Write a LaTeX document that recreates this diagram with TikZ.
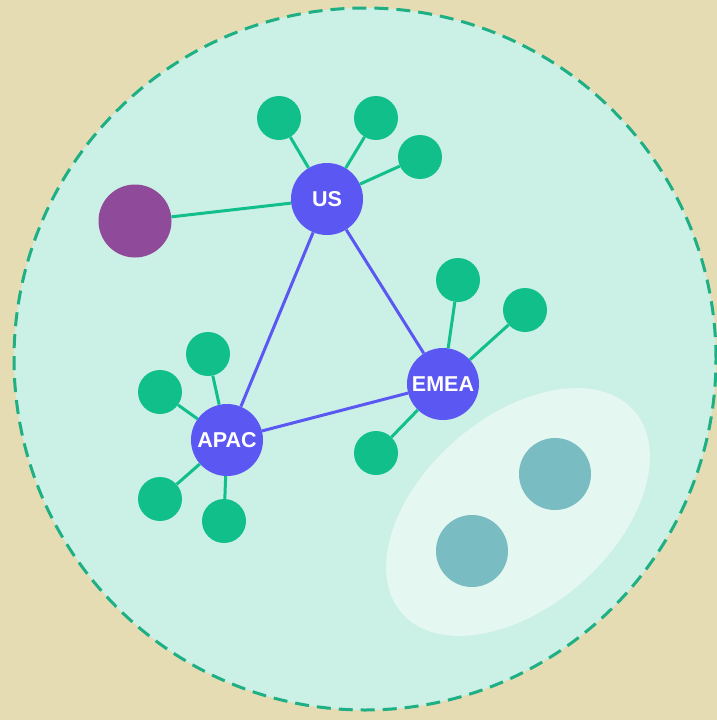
\documentclass[tikz,border=0pt]{standalone}
\usepackage{fontspec}
\setmainfont{Liberation Sans}
\definecolor{bgc}{HTML}{E5DCB4}
\definecolor{zonefill}{HTML}{CBF0E6}
\definecolor{zoneline}{HTML}{1EAF84}
\definecolor{leafc}{HTML}{10BF8A}
\definecolor{hubc}{HTML}{5B57F2}
\definecolor{purplec}{HTML}{904A9A}
\definecolor{tealc}{HTML}{79BCC1}
\definecolor{ovalc}{HTML}{E5F7F1}
\begin{document}
\begin{tikzpicture}[x=1pt,y=-1pt,
  hub/.style={circle,fill=hubc,minimum size=72pt,inner sep=0pt,text=white,font=\bfseries\fontsize{21.5}{21.5}\selectfont},
  leaf/.style={circle,fill=leafc,minimum size=44pt,inner sep=0pt},
  extnode/.style={circle,fill=purplec,minimum size=73pt,inner sep=0pt},
  tealnode/.style={circle,fill=tealc,minimum size=72pt,inner sep=0pt},
  gedge/.style={draw=leafc,line width=3pt},
  bedge/.style={draw=hubc,line width=3pt}]
\useasboundingbox (0,0) rectangle (717,720);
\fill[bgc] (0,0) rectangle (717,720);
\draw[fill=zonefill,draw=zoneline,line width=3pt,dash pattern=on 14pt off 8pt] (365,359) circle (351pt);
\fill[ovalc,rotate around={41:(518,512)}] (518,512) ellipse (154pt and 95pt);
\node[tealnode] (t1) at (555,474) {};
\node[tealnode] (t2) at (472,551) {};
\node[hub] (us) at (327,199) {US};
\node[hub] (emea) at (443,384) {EMEA};
\node[hub] (apac) at (227,440) {APAC};
\node[extnode] (ext) at (135,221) {};
\node[leaf] (u1) at (279,118) {};
\node[leaf] (u2) at (376,118) {};
\node[leaf] (u3) at (420,157) {};
\node[leaf] (e1) at (458,280) {};
\node[leaf] (e2) at (525,310) {};
\node[leaf] (e3) at (376,453) {};
\node[leaf] (a1) at (208,354) {};
\node[leaf] (a2) at (160,392) {};
\node[leaf] (a3) at (160,499) {};
\node[leaf] (a4) at (224,521) {};
\draw[gedge] (us) -- (ext);
\draw[gedge] (us) -- (u1);
\draw[gedge] (us) -- (u2);
\draw[gedge] (us) -- (u3);
\draw[gedge] (emea) -- (e1);
\draw[gedge] (emea) -- (e2);
\draw[gedge] (emea) -- (e3);
\draw[gedge] (apac) -- (a1);
\draw[gedge] (apac) -- (a2);
\draw[gedge] (apac) -- (a3);
\draw[gedge] (apac) -- (a4);
\draw[bedge] (us) -- (emea);
\draw[bedge] (us) -- (apac);
\draw[bedge] (apac) -- (emea);
\end{tikzpicture}
\end{document}
